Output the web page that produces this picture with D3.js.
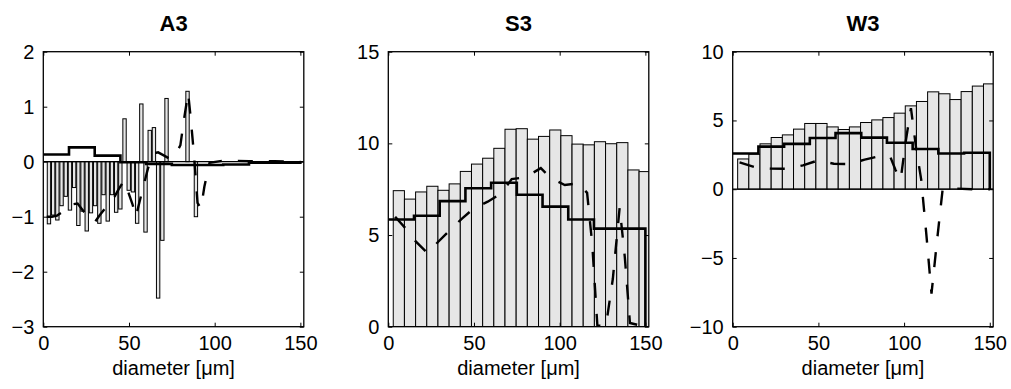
<!DOCTYPE html>
<html>
<head>
<meta charset="utf-8">
<script src="https://cdn.jsdelivr.net/npm/d3@7"></script>
<style>
  html, body { margin: 0; padding: 0; background: #fff; }
  svg { display: block; }
  text { font-family: "Liberation Sans", Arial, Helvetica, sans-serif; fill: #000; }
</style>
</head>
<body>
<svg id="chart" width="1011" height="389"></svg>
<script>
// ---------------- data ----------------
const panelTitles = ["A3", "S3", "W3"];
const xTicks = [0, 50, 100, 150];
const xLabel = "diameter [\u03bcm]";

const a3YTicks = [-3, -2, -1, 0, 1, 2];
const s3YTicks = [0, 5, 10, 15];
const w3YTicks = [-10, -5, 0, 5, 10];

// A3: narrow bars (bin centres in µm) and their values
const a3Centers = [3.3, 5.75, 8.2, 10.65, 13.1, 15.55, 18.0, 20.45, 22.9, 25.35, 27.8, 30.25,
  32.7, 35.15, 37.6, 40.05, 42.5, 44.95, 47.4, 49.85, 52.3, 54.75, 57.2, 59.65, 62.1, 64.55,
  67.0, 69.45, 71.9, 84.15, 89.05];
const a3Values = [-1.13, -0.97, -1.06, -0.8, -0.63, -0.88, -0.47, -1.16, -0.9, -1.26, -0.93, -0.8,
  -1.12, -0.6, -1.08, -0.6, -0.92, -0.86, 0.78, -0.52, -0.55, -1.12, 1.05, -1.28, 0.57, 0.62,
  -2.48, -1.43, 1.15, 1.28, -1.0];

// S3 / W3: full-width bars
const swCenters = [6.15, 12.67, 19.19, 25.71, 32.23, 38.75, 45.27, 51.79, 58.31, 64.83, 71.35,
  77.87, 84.39, 90.91, 97.43, 103.95, 110.47, 116.99, 123.51, 130.03, 136.55, 143.07, 149.59];
const s3Values = [7.42, 6.96, 7.35, 7.66, 7.44, 7.79, 8.47, 8.87, 9.19, 9.73, 10.77, 10.8,
  10.23, 10.38, 10.73, 10.42, 9.96, 9.92, 10.09, 9.98, 10.04, 8.55, 8.46];
const w3Values = [2.2, 2.55, 3.3, 3.76, 3.95, 4.37, 4.78, 4.78, 4.53, 4.34, 4.53, 4.85,
  5.04, 5.21, 5.53, 6.06, 6.38, 7.08, 6.94, 6.52, 7.1, 7.5, 7.66];

// solid step line (15 µm classes)
const stepEdges = [0, 15, 30, 45, 60, 75, 90, 105, 120, 135, 150];
const a3Step = [0.13, 0.26, 0.11, -0.01, -0.04, -0.06, -0.06, -0.05, -0.02, -0.02];
const s3Step = [5.85, 6.05, 6.85, 7.55, 7.85, 7.2, 6.55, 5.85, 5.35, 5.35];
const w3Step = [2.6, 3.1, 3.3, 3.72, 4.08, 3.75, 3.38, 2.92, 2.6, 2.65];

// dashed line
const a3DashX = [2, 5, 8, 12, 16, 20, 24, 27, 30, 33, 36, 40, 44, 47, 49, 52, 54, 58, 61, 64,
  67, 70, 74, 77, 80, 82, 84.5, 86, 88, 90, 92, 94, 97, 105, 120, 135, 150];
const a3DashY = [-1.0, -1.0, -0.98, -0.9, -0.78, -0.76, -0.92, -1.05, -1.1, -0.97, -0.85, -0.72,
  -0.5, -0.35, -0.5, -0.77, -1.0, -0.5, -0.13, 0.15, 0.17, 0.12, 0.05, 0.12, 0.3, 0.75, 1.25,
  0.8, 0.1, -0.75, -0.85, -0.45, -0.02, 0.02, 0.01, 0.01, 0.0];
const s3DashX = [4, 10, 16, 23, 29, 36, 43, 50, 58, 66, 72, 80, 89, 95, 103, 111, 116, 119, 122,
  127, 131, 135, 138, 141, 150];
const s3DashY = [6.0, 5.37, 4.65, 4.0, 4.62, 5.27, 5.9, 6.46, 6.82, 7.28, 8.05, 8.15, 8.65, 8.1,
  7.73, 7.82, 7.3, 4.5, 0.05, 0.05, 2.6, 6.5, 3.8, 0.2, 0];
const w3DashX = [4, 13, 22, 32, 41, 50, 59, 68, 77, 87, 92, 95, 98, 101, 104, 107, 110, 113,
  116, 119, 122.5, 130, 140, 150];
const w3DashY = [1.95, 1.6, 1.5, 1.49, 1.73, 2.1, 1.85, 1.83, 2.15, 2.44, 2.34, 1.4, 0.7, 3.5,
  5.9, 3.0, 0.7, -3.3, -7.6, -4.0, 0, 0.05, 0, 0];

// ---------------- drawing ----------------
const svg = d3.select("#chart");
const plotTop = 51.7, plotH = 275, plotW = 260.5;
const lefts = [43.3, 388.3, 732.7];
const xDomain = [0, 152];
const barFill = "#e6e6e6";

const panels = [
  { title: panelTitles[0], yDomain: [-3, 2], yTicks: a3YTicks, centers: a3Centers, values: a3Values,
    widthFrac: 0.8, step: a3Step, dashX: a3DashX, dashY: a3DashY },
  { title: panelTitles[1], yDomain: [0, 15], yTicks: s3YTicks, centers: swCenters, values: s3Values,
    widthFrac: 1.0, step: s3Step, dashX: s3DashX, dashY: s3DashY },
  { title: panelTitles[2], yDomain: [-10, 10], yTicks: w3YTicks, centers: swCenters, values: w3Values,
    widthFrac: 1.0, step: w3Step, dashX: w3DashX, dashY: w3DashY }
];

panels.forEach((p, i) => {
  const g = svg.append("g").attr("transform", `translate(${lefts[i]},${plotTop})`);
  const x = d3.scaleLinear().domain(xDomain).range([0, plotW]);
  const y = d3.scaleLinear().domain(p.yDomain).range([plotH, 0]);

  const clipId = "clip" + i;
  g.append("clipPath").attr("id", clipId).append("rect")
    .attr("x", 0).attr("y", 0).attr("width", plotW).attr("height", plotH);
  const inner = g.append("g").attr("clip-path", `url(#${clipId})`);

  const spacing = p.centers[1] - p.centers[0];
  const bw = spacing * p.widthFrac;
  inner.selectAll("rect.bar").data(p.centers.map((c, k) => ({ c, v: p.values[k] })))
    .join("rect").attr("class", "bar")
    .attr("x", d => x(d.c - bw / 2))
    .attr("width", d => x(d.c + bw / 2) - x(d.c - bw / 2))
    .attr("y", d => y(Math.max(0, d.v)))
    .attr("height", d => Math.abs(y(d.v) - y(0)))
    .attr("fill", barFill).attr("stroke", "#000").attr("stroke-width", 1);

  // baseline
  inner.append("line")
    .attr("x1", x(xDomain[0])).attr("x2", x(xDomain[1]))
    .attr("y1", y(0)).attr("y2", y(0))
    .attr("stroke", "#000").attr("stroke-width", 1.2);

  // step line
  const stepPts = p.step.map((v, k) => [stepEdges[k], v]);
  stepPts.push([stepEdges[stepEdges.length - 1], p.step[p.step.length - 1]]);
  inner.append("path")
    .attr("d", d3.line().x(d => x(d[0])).y(d => y(d[1])).curve(d3.curveStepAfter)(stepPts)
      + "L" + x(stepEdges[stepEdges.length - 1]) + "," + y(0))
    .attr("fill", "none").attr("stroke", "#000").attr("stroke-width", 2.6)
    .attr("stroke-linejoin", "miter");

  // dashed line
  const dashPts = p.dashX.map((xv, k) => [xv, p.dashY[k]]);
  inner.append("path")
    .attr("d", d3.line().x(d => x(d[0])).y(d => y(d[1]))(dashPts))
    .attr("fill", "none").attr("stroke", "#000").attr("stroke-width", 2.4)
    .attr("stroke-dasharray", "15,16");

  // axes (ticks inward, box)
  const tl = 4;
  const xb = d3.axisBottom(x).tickValues(xTicks).tickSizeInner(-tl).tickSizeOuter(0).tickPadding(9);
  const xt = d3.axisTop(x).tickValues(xTicks).tickSizeInner(-tl).tickSizeOuter(0).tickFormat("");
  const yl = d3.axisLeft(y).tickValues(p.yTicks).tickSizeInner(-tl).tickSizeOuter(0).tickPadding(9)
    .tickFormat(d => d < 0 ? "\u2212" + Math.abs(d) : String(d));
  const yr = d3.axisRight(y).tickValues(p.yTicks).tickSizeInner(-tl).tickSizeOuter(0).tickFormat("");

  const gxb = g.append("g").attr("transform", `translate(0,${plotH})`).call(xb);
  const gxt = g.append("g").call(xt);
  const gyl = g.append("g").call(yl);
  const gyr = g.append("g").attr("transform", `translate(${plotW},0)`).call(yr);
  [gxb, gxt, gyl, gyr].forEach(a => {
    a.select(".domain").remove();
    a.selectAll(".tick line").attr("stroke", "#000").attr("stroke-width", 1);
    a.selectAll(".tick text").attr("font-size", 20).attr("font-family", "Liberation Sans, Arial, sans-serif");
  });
  gxb.selectAll(".tick text").attr("dy", "0.71em");

  g.append("rect").attr("x", 0).attr("y", 0).attr("width", plotW).attr("height", plotH)
    .attr("fill", "none").attr("stroke", "#000").attr("stroke-width", 1.3);

  // title
  g.append("text").attr("x", plotW / 2).attr("y", 31 - plotTop)
    .attr("text-anchor", "middle").attr("font-size", 22).attr("font-weight", "bold")
    .text(p.title);
  // x label
  g.append("text").attr("x", plotW / 2).attr("y", 375 - plotTop)
    .attr("text-anchor", "middle").attr("font-size", 20)
    .text(xLabel);
});
</script>
</body>
</html>
